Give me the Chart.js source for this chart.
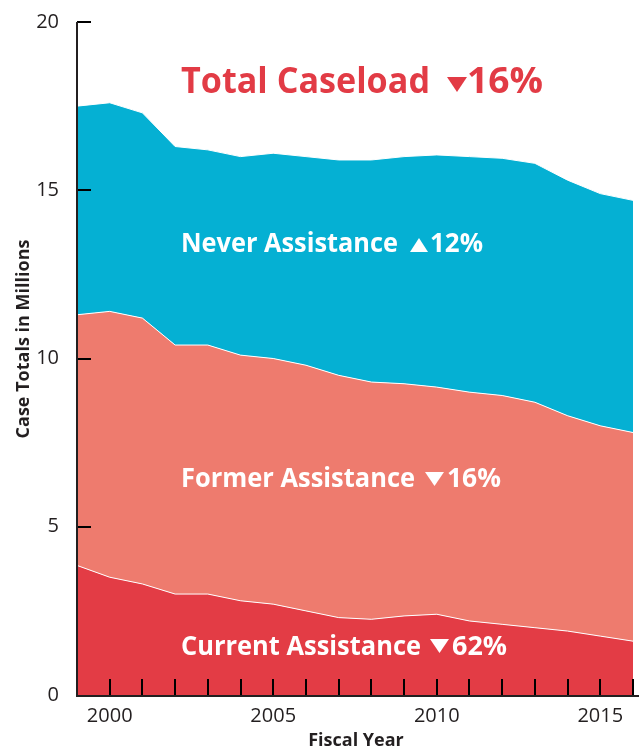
<!DOCTYPE html>
<html>
<head>
<meta charset="utf-8">
<script src="https://cdn.jsdelivr.net/npm/chart.js@4"></script>
<style>
  html, body { margin: 0; padding: 0; background: #fff; }
  canvas { display: block; }
</style>
</head>
<body>
<canvas id="chart" width="639" height="751"></canvas>
<script>
// fiscal years and caseload (millions) per band
const years   = [1999, 2000, 2001, 2002, 2003, 2004, 2005, 2006, 2007, 2008, 2009, 2010, 2011, 2012, 2013, 2014, 2015, 2016];
const current = [3.85, 3.5, 3.3, 3.0, 3.0, 2.8, 2.7, 2.5, 2.3, 2.25, 2.35, 2.4, 2.2, 2.1, 2.0, 1.9, 1.75, 1.6];
const former  = [7.45, 7.9, 7.9, 7.4, 7.4, 7.3, 7.3, 7.3, 7.2, 7.05, 6.9, 6.75, 6.8, 6.8, 6.7, 6.4, 6.25, 6.2];
const never   = [6.2, 6.2, 6.1, 5.9, 5.8, 5.9, 6.1, 6.2, 6.4, 6.6, 6.75, 6.9, 7.0, 7.05, 7.1, 7.0, 6.9, 6.9];
const yTicks  = [0, 5, 10, 15, 20];

const C = {
  current: "#e33c45", former: "#ee7b6e", never: "#05b0d3",
  text: "#231f20", white: "#ffffff", red: "#e23b45"
};
const FONT = "'Open Sans', sans-serif";

// label blocks: text, change, arrow direction, colour, and where they sit
const notes = [
  { text: "Total Caseload",     pct: "16%", up: false, color: C.red,   x: 181, y: 93,  size: 36, textW: 249, tri: [447, 77, 20, 15], pctX: 467, pctW: 76 },
  { text: "Never Assistance",   pct: "12%", up: true,  color: C.white, x: 181, y: 252, size: 26, textW: 217, tri: [410, 238, 18, 14], pctX: 430, pctW: 53 },
  { text: "Former Assistance",  pct: "16%", up: false, color: C.white, x: 181, y: 487, size: 26, textW: 234, tri: [425, 472, 19, 14], pctX: 447, pctW: 54 },
  { text: "Current Assistance", pct: "62%", up: false, color: C.white, x: 181, y: 655, size: 26, textW: 240, tri: [430, 639, 19, 14], pctX: 452, pctW: 55 }
];

function fitText(ctx, txt, x, y, width, font, color) {
  ctx.font = font;
  const w = ctx.measureText(txt).width;
  ctx.save();
  ctx.fillStyle = color;
  ctx.textBaseline = "alphabetic";
  ctx.textAlign = "left";
  ctx.translate(x, y);
  ctx.scale(width / w, 1);
  ctx.fillText(txt, 0, 0);
  ctx.restore();
}

const overlay = {
  id: "overlay",
  afterDraw(chart) {
    const { ctx, chartArea: a } = chart;
    const x = chart.scales.x, y = chart.scales.y;
    ctx.save();

    notes.forEach(n => {
      const font = `bold ${n.size}px ${FONT}`;
      fitText(ctx, n.text, n.x, n.y, n.textW, font, n.color);
      const [tx, ty, tw, th] = n.tri;
      ctx.fillStyle = n.color;
      ctx.beginPath();
      if (n.up) { ctx.moveTo(tx, ty + th); ctx.lineTo(tx + tw, ty + th); ctx.lineTo(tx + tw / 2, ty); }
      else { ctx.moveTo(tx, ty); ctx.lineTo(tx + tw, ty); ctx.lineTo(tx + tw / 2, ty + th); }
      ctx.closePath(); ctx.fill();
      fitText(ctx, n.pct, n.pctX, n.y, n.pctW, font, n.color);
    });

    // axis titles
    ctx.save();
    ctx.fillStyle = C.text;
    ctx.font = `bold 18px ${FONT}`;
    ctx.textAlign = "center";
    ctx.textBaseline = "middle";
    ctx.fillText("Fiscal Year", 356, 741);
    ctx.translate(24, 339);
    ctx.rotate(-Math.PI / 2);
    ctx.fillText("Case Totals in Millions", 0, 0);
    ctx.restore();

    // inward tick marks and axis lines
    ctx.strokeStyle = "#000";
    ctx.lineWidth = 2;
    for (let i = 1; i < x.ticks.length; i++) {
      const px = Math.round(x.getPixelForTick(i));
      ctx.beginPath();
      ctx.moveTo(px, a.bottom + 1);
      ctx.lineTo(px, a.bottom - 16);
      ctx.stroke();
    }
    yTicks.forEach(v => {
      if (v === 0) return;
      const py = Math.round(y.getPixelForValue(v));
      ctx.beginPath();
      ctx.moveTo(a.left, py);
      ctx.lineTo(a.left + 14, py);
      ctx.stroke();
    });
    ctx.strokeStyle = C.text;
    ctx.beginPath();
    ctx.moveTo(a.left, a.top); ctx.lineTo(a.left, a.bottom + 1); ctx.lineTo(639, a.bottom + 1);
    ctx.stroke();
    ctx.restore();
  }
};

const band = (label, data, color, fill) => ({
  label, data, fill,
  backgroundColor: color,
  borderColor: C.white,
  borderWidth: 1,
  pointRadius: 0,
  tension: 0
});

new Chart(document.getElementById("chart"), {
  type: "line",
  data: {
    labels: years.map(String),
    datasets: [
      band("Current Assistance", current, C.current, "origin"),
      band("Former Assistance", former, C.former, "-1"),
      band("Never Assistance", never, C.never, "-1")
    ]
  },
  options: {
    responsive: false,
    animation: false,
    devicePixelRatio: 1,
    layout: { padding: { top: 18, right: 6, left: 0, bottom: 0 } },
    plugins: { legend: { display: false }, tooltip: { enabled: false } },
    scales: {
      x: {
        offset: false,
        grid: { display: false },
        border: { display: false },
        ticks: {
          autoSkip: false, maxRotation: 0, padding: 1,
          color: C.text, font: { family: FONT, size: 20 },
          callback: (v, i) => (years[i] % 5 === 0 ? String(years[i]) : "")
        },
        afterFit: s => { s.height = 56; }
      },
      y: {
        stacked: true, min: 0, max: 20,
        grid: { display: false },
        border: { display: false },
        ticks: {
          stepSize: 5, padding: 10,
          color: C.text, font: { family: FONT, size: 20 }
        },
        afterFit: s => { s.width = 77; }
      }
    }
  },
  plugins: [overlay]
});
</script>
</body>
</html>
